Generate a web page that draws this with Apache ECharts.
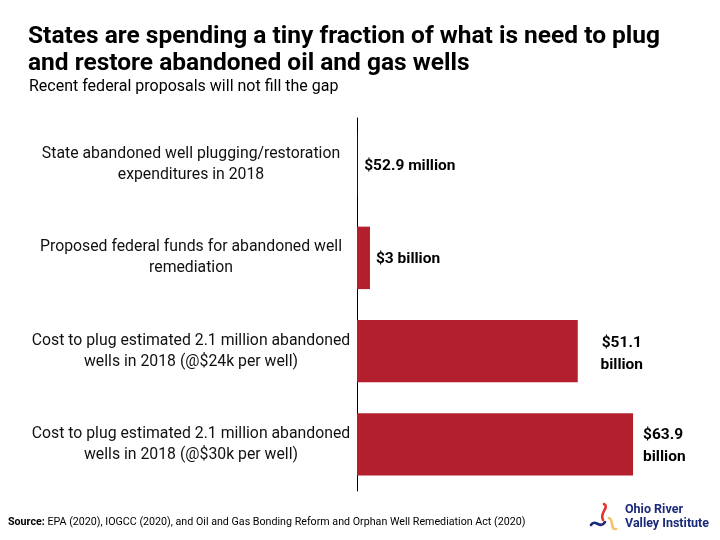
<!DOCTYPE html>
<html>
<head>
<meta charset="utf-8">
<script src="https://cdn.jsdelivr.net/npm/echarts@6/dist/echarts.min.js"></script>
<style>
  html, body { margin: 0; padding: 0; background: #fff; }
  #chart { width: 720px; height: 540px; }
</style>
</head>
<body>
<div id="chart"></div>
<script>
// categories, top to bottom
const categories = [
    "State abandoned well plugging/restoration\nexpenditures in 2018",
    "Proposed federal funds for abandoned well\nremediation",
    "Cost to plug estimated 2.1 million abandoned\nwells in 2018 (@$24k per well)",
    "Cost to plug estimated 2.1 million abandoned\nwells in 2018 (@$30k per well)",
];
// billions of dollars
const values = [0.0529, 3, 51.1, 63.9];
const valueLabels = ["$52.9 million", "$3 billion", "$51.1\nbillion", "$63.9\nbillion"];
const labelGaps = [7, 6, 22, 10];

const barColor = "#b41f2e";
const font = "Roboto, 'Noto Sans', sans-serif";

const barData = values.map((v, i) => ({
    value: v,
    label: {
        distance: labelGaps[i],
        align: i === 2 ? "center" : "left",
        offset: i === 2 ? [22, 3] : (i === 3 ? [0, 2] : [0, 1]),
    },
}));

// small curved strokes for the logo
const logoStroke = (pts, color) => ({
    type: "bezierCurve",
    shape: {
        x1: pts[0], y1: pts[1],
        cpx1: pts[2], cpy1: pts[3],
        cpx2: pts[4], cpy2: pts[5],
        x2: pts[6], y2: pts[7],
    },
    style: { stroke: color, lineWidth: 2.6, fill: null, lineCap: "round" },
});

const chart = echarts.init(document.getElementById("chart"));
chart.setOption({
    backgroundColor: "#fff",
    animation: false,
    title: [
        {
            text: "States are spending a tiny fraction of what is need to plug\nand restore abandoned oil and gas wells",
            left: 28,
            top: 23,
            padding: 0,
            textStyle: {
                fontFamily: font,
                fontWeight: "bold",
                fontSize: 24.5,
                lineHeight: 27,
                color: "#000",
            },
        },
        {
            text: "Recent federal proposals will not fill the gap",
            left: 29,
            top: 79,
            padding: 0,
            textStyle: {
                fontFamily: font,
                fontWeight: "normal",
                fontSize: 16,
                color: "#000",
            },
        },
    ],
    grid: {
        left: 357,
        top: 118,
        height: 373,
        width: 345.6,
        containLabel: false,
    },
    xAxis: {
        type: "value",
        min: 0,
        max: 80,
        show: false,
    },
    yAxis: {
        type: "category",
        data: categories,
        inverse: true,
        axisLine: { show: true, lineStyle: { color: "#000", width: 1 } },
        axisTick: { show: false },
        axisLabel: {
            align: "center",
            margin: 166,
            fontFamily: font,
            fontSize: 15.8,
            lineHeight: 21,
            color: "#111",
        },
    },
    series: [
        {
            type: "bar",
            data: barData,
            barCategoryGap: "33%",
            itemStyle: { color: barColor },
            label: {
                show: true,
                position: "right",
                formatter: (p) => valueLabels[p.dataIndex],
                fontFamily: font,
                fontWeight: "bold",
                fontSize: 15.5,
                lineHeight: 22,
                color: "#000",
            },
        },
    ],
    graphic: [
        {
            type: "text",
            left: 8,
            top: 517,
            style: {
                text: "{b|Source:} EPA (2020), IOGCC (2020), and Oil and Gas Bonding Reform and Orphan Well Remediation Act (2020)",
                font: "10.7px " + font,
                fill: "#000",
                rich: {
                    b: { fontWeight: "bold", fontSize: 10.7, fontFamily: font },
                },
            },
        },
        logoStroke([604, 504, 610, 507, 599, 513, 603, 520], "#e8332d"),
        logoStroke([591, 525, 595, 518, 600, 530, 605, 522], "#1b2a78"),
        logoStroke([609, 518, 614, 520, 610, 530, 616, 529], "#f2c56b"),
        {
            type: "text",
            left: 625,
            top: 503,
            style: {
                text: "Ohio River\nValley Institute",
                font: "bold 12.5px " + font,
                lineHeight: 14,
                fill: "#1b2a78",
            },
        },
    ],
});
</script>
</body>
</html>
